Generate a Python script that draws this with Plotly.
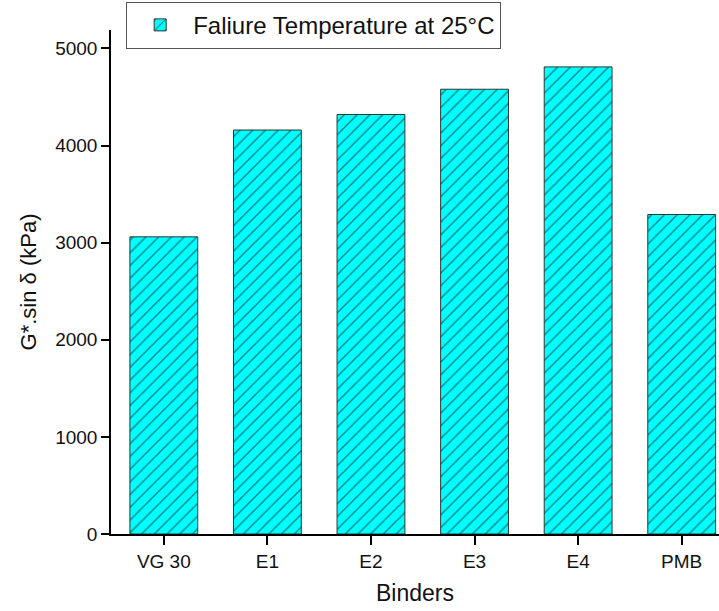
import plotly.graph_objects as go

binders = ["VG 30", "E1", "E2", "E3", "E4", "PMB"]
failure_temp_25c = [3060, 4160, 4320, 4580, 4810, 3290]
series_name = "Faliure Temperature at 25\u00b0C"
y_ticks = [0, 1000, 2000, 3000, 4000, 5000]

FONT = "Arial, 'Liberation Sans', sans-serif"

fig = go.Figure()
fig.add_trace(go.Bar(
    x=list(range(len(binders))),
    y=failure_temp_25c,
    name=series_name,
    width=0.655,
    marker=dict(
        color="#00FFFF",
        line=dict(color="#333333", width=1),
        pattern=dict(shape="/", fgcolor="#000000", bgcolor="#00FFFF", size=9, solidity=0.15),
    ),
    showlegend=True,
))

fig.update_layout(
    width=719, height=611,
    margin=dict(l=111, r=0, t=30, b=77, pad=0),
    paper_bgcolor="white", plot_bgcolor="white",
    font=dict(family=FONT, size=20, color="#111111"),
    showlegend=True,
    legend=dict(
        x=0.025, y=1.056, xanchor="left", yanchor="top",
        bordercolor="#555555", borderwidth=1, bgcolor="white",
        font=dict(size=24, family=FONT, color="#111111"),
        itemwidth=56,
        tracegroupgap=0,
    ),
    bargap=0.35,
)

fig.update_xaxes(
    range=[-0.51, 5.36],
    tickmode="array", tickvals=list(range(len(binders))), ticktext=binders,
    ticks="outside", ticklen=9, tickwidth=1.5, tickcolor="black",
    showline=True, linecolor="black", linewidth=1.5,
    showgrid=False, zeroline=False,
    title=dict(text="Binders", font=dict(size=23, family=FONT), standoff=14),
    tickfont=dict(size=19, family=FONT),
)
fig.update_yaxes(
    range=[0, 5190],
    tickmode="array", tickvals=y_ticks,
    ticks="outside", ticklen=8, tickwidth=1.5, tickcolor="black",
    showline=True, linecolor="black", linewidth=1.5,
    showgrid=False, zeroline=False,
    title=dict(text="G*.sin \u03b4 (kPa)", font=dict(size=22, family=FONT), standoff=12),
    tickfont=dict(size=19, family=FONT),
)

fig.write_html("out.html")
